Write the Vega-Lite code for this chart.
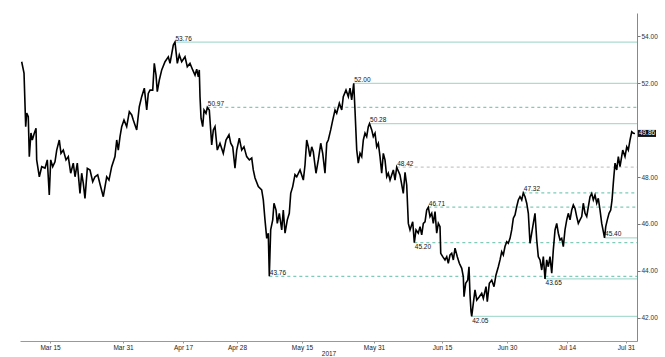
{
  "$schema": "https://vega.github.io/schema/vega-lite/v6.json",
  "width": 617,
  "height": 328,
  "autosize": "none",
  "padding": {"left": 20, "top": 13, "right": 28, "bottom": 16},
  "background": "white",
  "config": {"view": {"stroke": null}, "font": "Liberation Sans"},
  "datasets": {
    "price": [
      {"t":0.28,"p":52.92},{"t":0.67,"p":52.43},{"t":0.95,"p":50.15},{"t":1.12,"p":50.73},{"t":1.38,"p":50.57},{"t":1.55,"p":48.87},{"t":1.83,"p":49.88},{"t":2.05,"p":49.58},{"t":2.38,"p":49.87},{"t":2.67,"p":50.08},
      {"t":2.78,"p":48.73},{"t":3.22,"p":48.01},{"t":3.62,"p":48.44},{"t":4.17,"p":48.38},{"t":4.55,"p":48.73},{"t":4.88,"p":47.23},{"t":5.12,"p":48.73},{"t":5.45,"p":48.44},{"t":5.83,"p":48.65},{"t":6.12,"p":49.15},
      {"t":6.55,"p":49.58},{"t":6.83,"p":49.01},{"t":7.22,"p":49.15},{"t":7.67,"p":48.73},{"t":8.05,"p":48.87},{"t":8.45,"p":48.16},{"t":8.88,"p":48.59},{"t":9.17,"p":48.01},{"t":9.55,"p":48.59},{"t":10.0,"p":47.3},
      {"t":10.28,"p":48.16},{"t":10.55,"p":47.73},{"t":10.83,"p":47.09},{"t":11.22,"p":48.37},{"t":11.67,"p":48.3},{"t":12.12,"p":47.8},{"t":12.5,"p":48.01},{"t":12.95,"p":48.09},{"t":13.33,"p":47.7},{"t":13.88,"p":47.16},
      {"t":14.45,"p":48.01},{"t":14.83,"p":47.87},{"t":15.28,"p":48.44},{"t":15.83,"p":48.87},{"t":16.12,"p":49.58},{"t":16.38,"p":49.15},{"t":16.67,"p":49.72},{"t":16.95,"p":50.15},{"t":17.33,"p":50.43},{"t":17.78,"p":50.15},
      {"t":18.22,"p":50.79},{"t":18.62,"p":50.65},{"t":18.88,"p":50.43},{"t":19.45,"p":50.01},{"t":19.88,"p":51.0},{"t":20.28,"p":51.43},{"t":20.72,"p":51.79},{"t":21.12,"p":50.86},{"t":21.38,"p":51.57},{"t":21.67,"p":51.71},
      {"t":22.12,"p":51.71},{"t":22.38,"p":52.85},{"t":22.67,"p":52.35},{"t":22.88,"p":51.64},{"t":23.22,"p":52.14},{"t":23.62,"p":52.57},{"t":24.17,"p":52.92},{"t":24.72,"p":53.13},{"t":25.0,"p":52.85},{"t":25.55,"p":53.63},
      {"t":25.83,"p":53.76},{"t":26.22,"p":52.85},{"t":26.55,"p":53.21},{"t":26.95,"p":52.92},{"t":27.5,"p":53.13},{"t":27.88,"p":52.71},{"t":28.33,"p":52.85},{"t":28.78,"p":52.57},{"t":29.17,"p":52.35},{"t":29.45,"p":52.6},
      {"t":29.72,"p":52.28},{"t":29.88,"p":52.57},{"t":30.0,"p":51.43},{"t":30.17,"p":50.51},{"t":30.45,"p":50.15},{"t":30.67,"p":50.86},{"t":31.0,"p":50.72},{"t":31.22,"p":50.97},{"t":31.55,"p":50.86},{"t":31.95,"p":49.37},
      {"t":32.22,"p":50.01},{"t":32.5,"p":50.15},{"t":32.88,"p":49.15},{"t":33.33,"p":49.44},{"t":33.88,"p":49.01},{"t":34.33,"p":49.58},{"t":34.83,"p":49.8},{"t":35.12,"p":49.44},{"t":35.45,"p":49.29},{"t":35.83,"p":48.38},
      {"t":36.12,"p":49.15},{"t":36.55,"p":49.66},{"t":36.95,"p":49.15},{"t":37.33,"p":49.29},{"t":37.78,"p":48.87},{"t":38.22,"p":48.73},{"t":38.62,"p":48.81},{"t":38.88,"p":48.3},{"t":39.17,"p":47.96},{"t":39.72,"p":47.59},
      {"t":40.28,"p":47.45},{"t":40.55,"p":47.02},{"t":40.83,"p":46.17},{"t":41.12,"p":45.38},{"t":41.38,"p":45.6},{"t":41.55,"p":43.76},{"t":41.78,"p":45.74},{"t":42.12,"p":46.17},{"t":42.33,"p":46.88},{"t":42.67,"p":46.59},
      {"t":42.88,"p":46.02},{"t":43.22,"p":46.45},{"t":43.62,"p":45.74},{"t":43.88,"p":46.59},{"t":44.17,"p":45.6},{"t":44.55,"p":46.17},{"t":44.88,"p":46.45},{"t":45.12,"p":47.3},{"t":45.45,"p":47.59},{"t":45.83,"p":48.1},
      {"t":46.12,"p":48.01},{"t":46.67,"p":48.3},{"t":47.22,"p":47.87},{"t":47.5,"p":48.51},{"t":47.78,"p":49.58},{"t":48.05,"p":49.29},{"t":48.33,"p":48.87},{"t":48.62,"p":49.29},{"t":48.88,"p":49.08},{"t":49.33,"p":48.16},
      {"t":49.72,"p":48.73},{"t":50.12,"p":49.44},{"t":50.45,"p":49.01},{"t":50.83,"p":48.16},{"t":51.12,"p":49.44},{"t":51.38,"p":49.58},{"t":51.78,"p":50.01},{"t":52.12,"p":50.43},{"t":52.5,"p":50.86},{"t":52.78,"p":50.72},
      {"t":53.22,"p":51.15},{"t":53.62,"p":50.86},{"t":53.88,"p":51.43},{"t":54.33,"p":51.71},{"t":54.72,"p":51.43},{"t":55.0,"p":51.79},{"t":55.28,"p":51.29},{"t":55.62,"p":52.0},{"t":55.83,"p":50.86},{"t":55.95,"p":50.15},
      {"t":56.12,"p":49.15},{"t":56.38,"p":48.59},{"t":56.67,"p":49.01},{"t":56.95,"p":48.87},{"t":57.22,"p":49.58},{"t":57.5,"p":49.87},{"t":57.78,"p":49.72},{"t":58.05,"p":50.15},{"t":58.25,"p":50.28},{"t":58.62,"p":50.01},
      {"t":58.88,"p":49.72},{"t":59.17,"p":49.87},{"t":59.45,"p":49.29},{"t":59.72,"p":49.44},{"t":60.0,"p":48.87},{"t":60.28,"p":48.16},{"t":60.55,"p":49.01},{"t":60.83,"p":48.73},{"t":61.12,"p":48.01},{"t":61.38,"p":48.16},
      {"t":61.67,"p":47.87},{"t":62.22,"p":48.3},{"t":62.5,"p":47.87},{"t":62.78,"p":48.42},{"t":63.33,"p":48.09},{"t":63.88,"p":47.3},{"t":64.17,"p":48.2},{"t":64.45,"p":47.66},{"t":64.72,"p":46.02},{"t":65.0,"p":45.74},
      {"t":65.45,"p":46.09},{"t":65.72,"p":45.2},{"t":66.0,"p":45.74},{"t":66.38,"p":45.6},{"t":66.67,"p":45.88},{"t":66.95,"p":45.53},{"t":67.22,"p":46.02},{"t":67.5,"p":46.09},{"t":67.78,"p":46.59},{"t":68.05,"p":46.71},
      {"t":68.33,"p":46.31},{"t":68.62,"p":46.45},{"t":68.88,"p":46.02},{"t":69.17,"p":46.52},{"t":69.45,"p":45.6},{"t":69.72,"p":46.02},{"t":70.0,"p":45.88},{"t":70.12,"p":44.74},{"t":70.45,"p":44.6},{"t":70.83,"p":44.46},
      {"t":71.12,"p":44.6},{"t":71.38,"p":44.32},{"t":71.67,"p":44.67},{"t":71.95,"p":44.74},{"t":72.22,"p":44.46},{"t":72.5,"p":44.96},{"t":72.88,"p":44.6},{"t":73.22,"p":44.32},{"t":73.62,"p":44.1},{"t":73.88,"p":43.75},
      {"t":74.0,"p":42.89},{"t":74.28,"p":43.46},{"t":74.62,"p":43.6},{"t":74.83,"p":44.17},{"t":75.0,"p":42.96},{"t":75.17,"p":42.25},{"t":75.28,"p":42.05},{"t":75.55,"p":42.61},{"t":75.83,"p":43.18},{"t":76.12,"p":42.75},
      {"t":76.55,"p":42.89},{"t":76.95,"p":43.04},{"t":77.22,"p":42.82},{"t":77.67,"p":43.32},{"t":77.88,"p":42.68},{"t":78.22,"p":43.46},{"t":78.62,"p":43.6},{"t":79.0,"p":43.32},{"t":79.33,"p":43.82},{"t":79.72,"p":44.17},
      {"t":80.0,"p":44.46},{"t":80.28,"p":44.81},{"t":80.55,"p":44.67},{"t":80.83,"p":45.03},{"t":81.12,"p":45.24},{"t":81.38,"p":45.17},{"t":81.67,"p":45.38},{"t":81.95,"p":45.74},{"t":82.22,"p":46.24},{"t":82.5,"p":46.38},
      {"t":82.78,"p":46.73},{"t":83.05,"p":47.02},{"t":83.33,"p":47.16},{"t":83.62,"p":47.02},{"t":83.88,"p":47.32},{"t":84.17,"p":47.16},{"t":84.45,"p":46.88},{"t":84.72,"p":46.45},{"t":85.0,"p":45.17},{"t":85.28,"p":45.6},
      {"t":85.55,"p":46.02},{"t":85.83,"p":46.45},{"t":86.12,"p":45.31},{"t":86.38,"p":44.6},{"t":86.67,"p":44.46},{"t":86.95,"p":44.03},{"t":87.22,"p":44.6},{"t":87.5,"p":43.65},{"t":87.78,"p":44.46},{"t":88.05,"p":44.17},
      {"t":88.33,"p":44.6},{"t":88.62,"p":43.89},{"t":88.88,"p":44.88},{"t":89.17,"p":45.74},{"t":89.45,"p":46.02},{"t":89.72,"p":45.6},{"t":90.0,"p":45.31},{"t":90.28,"p":45.38},{"t":90.55,"p":45.03},{"t":90.83,"p":45.74},
      {"t":91.12,"p":46.17},{"t":91.38,"p":46.45},{"t":91.67,"p":46.17},{"t":91.95,"p":46.59},{"t":92.22,"p":46.81},{"t":92.5,"p":46.66},{"t":92.78,"p":46.31},{"t":93.05,"p":46.02},{"t":93.33,"p":46.17},{"t":93.62,"p":46.31},
      {"t":93.88,"p":46.88},{"t":94.17,"p":46.45},{"t":94.45,"p":46.31},{"t":94.72,"p":46.73},{"t":95.0,"p":47.16},{"t":95.28,"p":47.3},{"t":95.55,"p":47.02},{"t":95.83,"p":47.23},{"t":96.12,"p":46.88},{"t":96.38,"p":47.09},
      {"t":96.67,"p":46.59},{"t":96.95,"p":46.02},{"t":97.22,"p":45.67},{"t":97.42,"p":45.4},{"t":97.62,"p":45.88},{"t":97.88,"p":46.17},{"t":98.17,"p":46.45},{"t":98.45,"p":46.59},{"t":98.67,"p":47.02},{"t":98.88,"p":47.73},
      {"t":98.97,"p":48.01},{"t":99.17,"p":48.59},{"t":99.45,"p":48.3},{"t":99.72,"p":48.87},{"t":100.0,"p":48.44},{"t":100.45,"p":49.15},{"t":100.83,"p":48.87},{"t":101.12,"p":49.29},{"t":101.38,"p":49.15},{"t":101.67,"p":49.58},
      {"t":101.95,"p":49.93},{"t":102.22,"p":49.87},{"t":102.5,"p":49.86}
    ],
    "levels": [
      {"v":53.76,"t0":25.83,"kind":"solid","pos":"above"},
      {"v":52.00,"t0":55.62,"kind":"solid","pos":"above"},
      {"v":50.97,"t0":31.22,"kind":"dashed","pos":"above"},
      {"v":50.28,"t0":58.25,"kind":"solid","pos":"above"},
      {"v":48.42,"t0":62.78,"kind":"pivot","pos":"above"},
      {"v":47.32,"t0":83.88,"kind":"dashed","pos":"above"},
      {"v":46.71,"t0":68.05,"kind":"dashed","pos":"above"},
      {"v":45.40,"t0":97.42,"kind":"solid","pos":"above"},
      {"v":45.20,"t0":65.72,"kind":"dashed","pos":"below"},
      {"v":43.76,"t0":41.55,"kind":"dashed","pos":"above"},
      {"v":43.65,"t0":87.5,"kind":"solid","pos":"below"},
      {"v":42.05,"t0":75.28,"kind":"solid","pos":"below"}
    ],
    "last": [{"p":49.86}]
  },
  "layer": [
    {
      "data": {"name": "levels"},
      "mark": {"type": "rule", "strokeWidth": 1.2},
      "encoding": {
        "x": {"field": "t0", "type": "quantitative", "title": "2017", "scale": {"domain": [0, 102.83], "nice": false, "zero": false}},
        "x2": {"datum": 102.83},
        "y": {"field": "v", "type": "quantitative", "title": null, "scale": {"domain": [41, 55], "nice": false, "zero": false}},
        "stroke": {"field": "kind", "type": "nominal", "scale": {"domain": ["solid", "dashed", "pivot"], "range": ["#aadccf", "#7fcbb6", "#c8c8c8"]}, "legend": null},
        "strokeDash": {"field": "kind", "type": "nominal", "scale": {"domain": ["solid", "dashed", "pivot"], "range": [[1, 0], [3, 3], [3, 3]]}, "legend": null}
      }
    },
    {
      "data": {"name": "levels"},
      "transform": [{"filter": "datum.pos === 'above'"}],
      "mark": {"type": "text", "align": "left", "baseline": "bottom", "dy": -0.5, "dx": 0.5, "fontSize": 6.5, "color": "#111"},
      "encoding": {
        "x": {"field": "t0", "type": "quantitative", "title": "2017", "scale": {"domain": [0, 102.83], "nice": false, "zero": false}},
        "y": {"field": "v", "type": "quantitative", "title": null, "scale": {"domain": [41, 55], "nice": false, "zero": false}},
        "text": {"field": "v", "type": "quantitative", "format": ".2f"}
      }
    },
    {
      "data": {"name": "levels"},
      "transform": [{"filter": "datum.pos === 'below'"}],
      "mark": {"type": "text", "align": "left", "baseline": "top", "dy": 1.5, "dx": 0.5, "fontSize": 6.5, "color": "#111"},
      "encoding": {
        "x": {"field": "t0", "type": "quantitative", "title": "2017", "scale": {"domain": [0, 102.83], "nice": false, "zero": false}},
        "y": {"field": "v", "type": "quantitative", "title": null, "scale": {"domain": [41, 55], "nice": false, "zero": false}},
        "text": {"field": "v", "type": "quantitative", "format": ".2f"}
      }
    },
    {
      "data": {"name": "price"},
      "mark": {"type": "line", "color": "#000", "strokeWidth": 1.6, "strokeJoin": "miter"},
      "encoding": {
        "x": {
          "field": "t", "type": "quantitative", "title": "2017",
          "scale": {"domain": [0, 102.83], "nice": false, "zero": false},
          "axis": {
            "title": "2017", "titleFontSize": 6.5, "titleFontWeight": "normal", "titleColor": "#222", "titlePadding": 0,
            "values": [5, 10.17, 17.17, 22.17, 27.17, 31.17, 36.17, 42.17, 47, 53.17, 59, 65.33, 70.33, 75.33, 81.17, 86.17, 91.17, 97.17, 101],
            "labelExpr": "['Mar 15','','Mar 31','','Apr 17','','Apr 28','','May 15','','May 31','','Jun 15','','Jun 30','','Jul 14','','Jul 31'][indexof([5, 10.17, 17.17, 22.17, 27.17, 31.17, 36.17, 42.17, 47, 53.17, 59, 65.33, 70.33, 75.33, 81.17, 86.17, 91.17, 97.17, 101], datum.value)]",
            "labelOverlap": false, "labelFontSize": 6.5, "labelColor": "#222", "labelPadding": 1, "labelFlush": false,
            "tickSize": 2, "tickColor": "#999", "domainColor": "#999", "grid": false
          }
        },
        "y": {
          "field": "p", "type": "quantitative", "title": null,
          "scale": {"domain": [41, 55], "nice": false, "zero": false},
          "axis": {
            "orient": "right", "title": null, "grid": false,
            "values": [42, 43, 44, 45, 46, 47, 48, 49, 50, 51, 52, 53, 54],
            "labelExpr": "datum.value % 2 === 0 && datum.value !== 50 ? format(datum.value, '.2f') : ''",
            "labelFontSize": 6.5, "labelColor": "#333", "labelPadding": 1,
            "tickSize": {"condition": {"test": "datum.value % 2 === 0", "value": 3}, "value": 2},
            "tickColor": "#777", "domainColor": "#888"
          }
        }
      }
    },
    {
      "data": {"name": "last"},
      "mark": {"type": "rect", "color": "#111"},
      "encoding": {
        "x": {"datum": 103.0, "type": "quantitative", "title": "2017", "scale": {"domain": [0, 102.83], "nice": false, "zero": false}},
        "x2": {"datum": 106.0},
        "y": {"datum": 49.71, "type": "quantitative", "title": null, "scale": {"domain": [41, 55], "nice": false, "zero": false}},
        "y2": {"datum": 50.01}
      }
    },
    {
      "data": {"name": "last"},
      "mark": {"type": "text", "align": "center", "baseline": "middle", "fontSize": 6.5, "color": "white"},
      "encoding": {
        "x": {"datum": 104.5, "type": "quantitative", "title": "2017", "scale": {"domain": [0, 102.83], "nice": false, "zero": false}},
        "y": {"field": "p", "type": "quantitative", "title": null, "scale": {"domain": [41, 55], "nice": false, "zero": false}},
        "text": {"field": "p", "type": "quantitative", "format": ".2f"}
      }
    }
  ]
}
